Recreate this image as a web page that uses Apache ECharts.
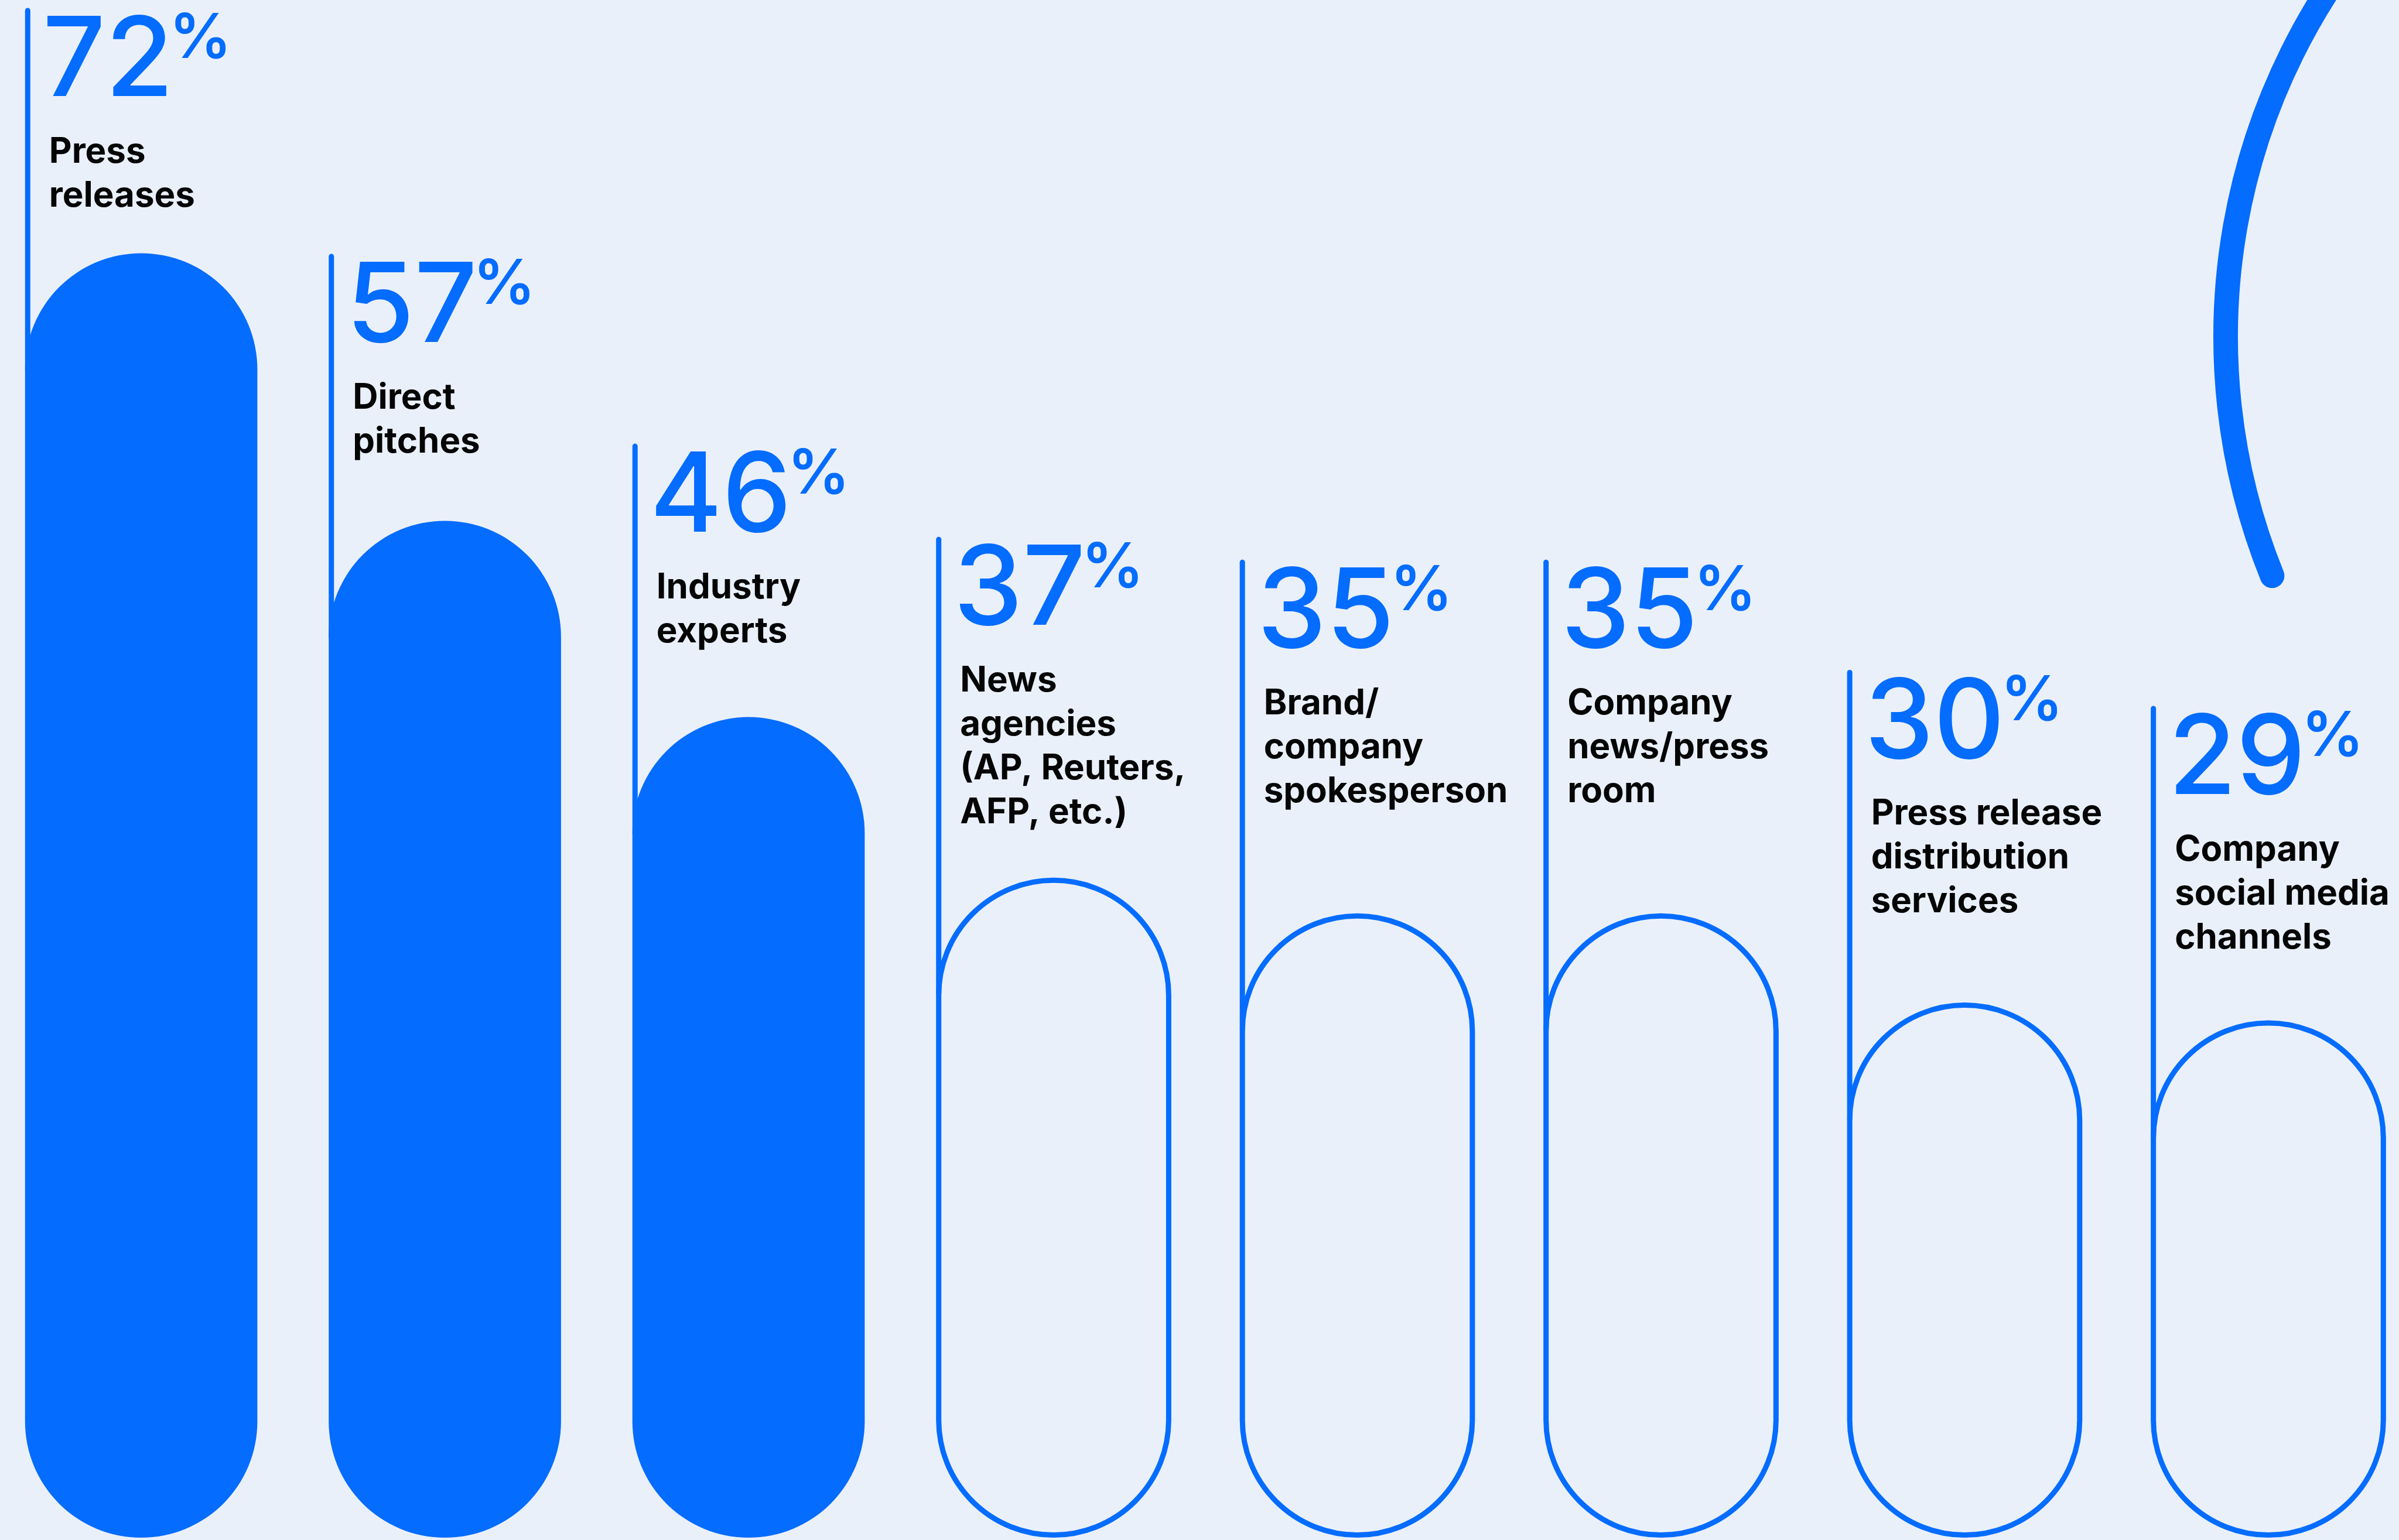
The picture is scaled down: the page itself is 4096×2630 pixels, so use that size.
<!DOCTYPE html>
<html>
<head>
<meta charset="utf-8">
<title>Most valued sources</title>
<script src="https://cdn.jsdelivr.net/npm/echarts@6/dist/echarts.min.js"></script>
<style>
  html, body { margin: 0; padding: 0; background: #EAF0FA; }
  #chart { width: 4096px; height: 2630px; }
</style>
</head>
<body>
<div id="chart"></div>
<script>
// ---- data ----
const categories = [
  'Press\nreleases',
  'Direct\npitches',
  'Industry\nexperts',
  'News\nagencies\n(AP, Reuters,\nAFP, etc.)',
  'Brand/\ncompany\nspokesperson',
  'Company\nnews/press\nroom',
  'Press release\ndistribution\nservices',
  'Company\nsocial media\nchannels'
];
const shares = [72, 57, 46, 37, 35, 35, 30, 29];
const solidCount = 3;   // the leading sources are drawn as solid pills

// ---- layout (pixels) ----
const labelRise = [419, 456, 467, 582, 604, 604, 568, 537]; // pill top -> label block top
const BLUE = '#046CFF';
const INK = '#050505';
const FONT = 'Inter, "Noto Sans", sans-serif';
const STROKE = 9;
const NUM_SIZE = 188, PCT_SIZE = 106, LABEL_SIZE = 60, LABEL_LH = 75;

const measureCtx = document.createElement('canvas').getContext('2d');
function textWidth(txt, weight, size) {
  measureCtx.font = weight + ' ' + size + 'px ' + FONT;
  return measureCtx.measureText(txt).width;
}

function renderPill(params, api) {
  const idx = params.dataIndex;
  const v = api.value(1);
  const top = api.coord([api.value(0), v]);
  const base = api.coord([api.value(0), 0]);
  const band = api.size([1, 0])[0];
  const W = band * 0.765;
  const left = top[0] - W / 2;
  const solid = idx < solidCount;
  const children = [];

  if (solid) {
    children.push({
      type: 'rect',
      shape: { x: left, y: top[1], width: W, height: base[1] - top[1], r: W / 2 },
      style: { fill: BLUE }
    });
  } else {
    const ow = W - STROKE + 5;
    children.push({
      type: 'rect',
      shape: {
        x: left + STROKE / 2, y: top[1] + STROKE / 2,
        width: ow, height: base[1] - top[1] - STROKE, r: ow / 2
      },
      style: { fill: 'none', stroke: BLUE, lineWidth: STROKE }
    });
  }

  // label block anchored above the pill
  const T = top[1] - labelRise[idx];
  const lx = left + STROKE / 2;
  children.push({
    type: 'line',
    shape: { x1: lx, y1: T + STROKE / 2, x2: lx, y2: top[1] + W / 2 },
    style: { stroke: BLUE, lineWidth: STROKE, lineCap: 'round' }
  });

  const numTxt = String(v);
  const numX = left + 30;
  children.push({
    type: 'text',
    style: {
      x: numX, y: T + 94, text: numTxt,
      fill: BLUE, fontFamily: FONT, fontWeight: 500, fontSize: NUM_SIZE,
      align: 'left', verticalAlign: 'middle'
    }
  });
  children.push({
    type: 'text',
    style: {
      x: numX + textWidth(numTxt, 500, NUM_SIZE) - 7, y: T + 54, text: '%',
      fill: BLUE, fontFamily: FONT, fontWeight: 600, fontSize: PCT_SIZE,
      align: 'left', verticalAlign: 'middle'
    }
  });
  children.push({
    type: 'text',
    style: {
      x: left + 41, y: T + 246 - LABEL_LH / 2, text: categories[idx],
      fill: INK, fontFamily: FONT, fontWeight: 700, fontSize: LABEL_SIZE,
      lineHeight: LABEL_LH, align: 'left', verticalAlign: 'top'
    }
  });

  return { type: 'group', children: children };
}

const chart = echarts.init(document.getElementById('chart'), null, { renderer: 'canvas' });
chart.setOption({
  backgroundColor: '#EAF0FA',
  animation: false,
  grid: { left: 0, right: 0, top: 6, bottom: 4 },
  xAxis: { type: 'value', min: -0.465, max: 7.435, show: false },
  yAxis: { type: 'value', min: 0, max: 86, show: false },
  graphic: [{
    // decorative sweep in the top-right corner
    type: 'arc',
    silent: true,
    shape: {
      cx: 4890, cy: 575, r: 1090,
      startAngle: 158.0 * Math.PI / 180,
      endAngle: 222 * Math.PI / 180,
      clockwise: true
    },
    style: { fill: 'none', stroke: BLUE, lineWidth: 42, lineCap: 'round' }
  }],
  series: [{
    type: 'custom',
    clip: false,
    silent: true,
    renderItem: renderPill,
    data: shares.map((v, i) => [i, v])
  }]
});
</script>
</body>
</html>
